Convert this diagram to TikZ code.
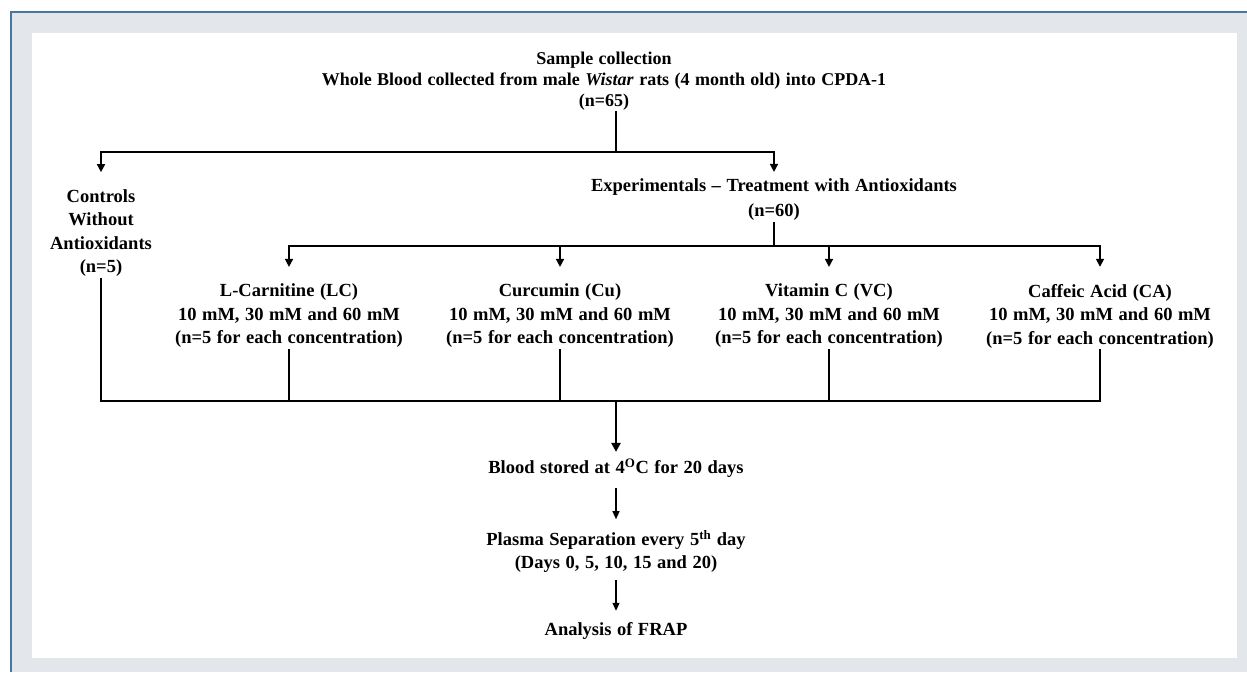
\documentclass[tikz,border=0pt]{standalone}
\usepackage{fontspec}
\setmainfont{Liberation Serif}[WordSpace=1.2]
\usetikzlibrary{arrows.meta,positioning}

\definecolor{frameblue}{HTML}{4677A2}
\definecolor{panelgray}{HTML}{E3E7EC}

\tikzset{
  lbl/.style={align=center, inner sep=1pt, font=\bfseries\fontsize{18.5}{23.5}\selectfont},
  toplbl/.style={lbl, font=\bfseries\fontsize{18}{21}\selectfont},
  link/.style={line width=1.6pt},
  arr/.style={link, -{Triangle[width=8pt,length=8pt]}},
  thinarr/.style={line width=1.1pt, -{Triangle[width=7pt,length=8pt]}},
}

\begin{document}
\begin{tikzpicture}[x=1pt,y=-1pt]
    \useasboundingbox (0,0) rectangle (1247,672);
    % panel
    \fill[panelgray] (10,12) rectangle (1247,672);
    \fill[white] (32,33) rectangle (1237,658);
    \draw[frameblue, line width=1.6pt] (10.8,672) -- (10.8,11.8) -- (1247,11.8);

    % boxes
    \node[toplbl] (sample) at (604,81) {Sample collection\\
        Whole Blood collected from male \textit{Wistar} rats (4 month old) into CPDA-1\\(n=65)};
    \node[lbl] (ctrl) at (101,233) {Controls\\Without\\Antioxidants\\(n=5)};
    \node[lbl, font=\bfseries\fontsize{18.5}{25}\selectfont] (expt) at (774,200)
        {Experimentals -- Treatment with Antioxidants\\(n=60)};
    \node[lbl] (lc) at (289,316) {L-Carnitine (LC)\\10 mM, 30 mM and 60 mM\\(n=5 for each concentration)};
    \node[lbl] (cu) at (560,316) {Curcumin (Cu)\\10 mM, 30 mM and 60 mM\\(n=5 for each concentration)};
    \node[lbl] (vc) at (829,316) {Vitamin C (VC)\\10 mM, 30 mM and 60 mM\\(n=5 for each concentration)};
    \node[lbl] (ca) at (1100,316) {Caffeic Acid (CA)\\10 mM, 30 mM and 60 mM\\(n=5 for each concentration)};
    \node[lbl] (blood) at (616,468.5) {Blood stored at 4\textsuperscript{O}C for 20 days};
    \node[lbl, font=\bfseries\fontsize{18.5}{23}\selectfont] (plasma) at (616,551.5)
        {Plasma Separation every 5\textsuperscript{th} day\\(Days 0, 5, 10, 15 and 20)};
    \node[lbl] (frap) at (616,630.5) {Analysis of FRAP};

    % branch points
    \coordinate (split1) at (616,152);
    \coordinate (split2) at (774,246);
    \coordinate (merge) at (616,401);

    % connectors
    \draw[link] (split1 |- sample.south) -- (split1);
    \draw[arr, shorten >=16pt] (split1) -| (ctrl);
    \draw[arr, shorten >=6pt] (split1) -| (expt);
    \draw[link] (expt.south) -- (split2);
    \foreach \t in {lc,cu,vc,ca}
        \draw[arr, shorten >=16pt] (split2) -| (\t);
    \foreach \t in {ctrl,lc,cu,vc,ca}
        \draw[link] (\t.south) |- (merge);
    \draw[line width=2.8pt, -{Triangle[width=9pt,length=9pt]}, shorten >=6pt] (merge) -- (blood);
    \draw[thinarr, shorten <=9pt, shorten >=10pt] (blood) -- (plasma);
    \draw[thinarr, shorten <=6pt, shorten >=10pt] (plasma) -- (frap);
\end{tikzpicture}
\end{document}
